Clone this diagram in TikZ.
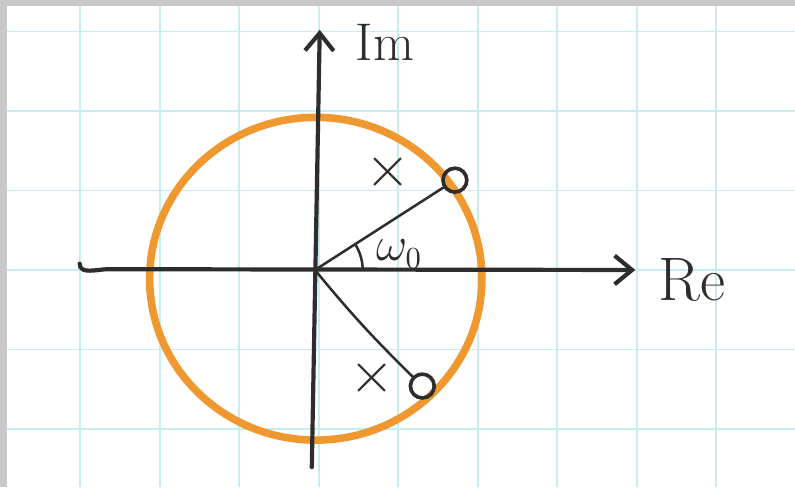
\documentclass[tikz,border=0pt]{standalone}
\usepackage{amsmath, amssymb}
\usepackage{tikz}
\usetikzlibrary{arrows.meta}
\usepackage{xcolor}
\definecolor{ink}{RGB}{45,45,45}
\definecolor{paper}{RGB}{200,200,200}
\definecolor{gridcyan}{RGB}{198,237,239}
\definecolor{marker}{RGB}{240,152,48}

\begin{document}
\begin{tikzpicture}[
    axis/.style={draw=ink, line width=1.5pt, line cap=round},
    ray/.style={draw=ink, line width=0.9pt, line cap=round},
    zeromark/.style={circle, draw=ink, line width=1.3pt, minimum size=0.3cm, inner sep=0pt},
    polemark/.style={text=ink, font=\fontsize{20}{20}\selectfont, inner sep=0pt},
    axlabel/.style={text=ink, inner sep=0pt}
]
    \useasboundingbox (-3.962,-2.730) rectangle (6.038,3.396);
    \fill[paper] (-3.962,-2.730) rectangle (6.038,3.396);
    \fill[white] (-3.874,-2.730) rectangle (6.038,3.321);
    % squared paper
    \foreach \x in {-3,...,5}
        \draw[gridcyan, line width=0.7pt] (\x+0.05,-2.730) -- (\x+0.05,3.321);
    \foreach \y in {-2,...,3}
        \draw[gridcyan, line width=0.7pt] (-3.874,\y) -- (6.038,\y);

    % unit circle
    \draw[marker, line width=2.7pt] (0.01,-0.11) ellipse [x radius=2.09, y radius=2.03];

    % axes
    \coordinate (O) at (0,0);
    \coordinate (re start) at (-2.96,0.08);
    \coordinate (re end) at (4.03,0);
    \coordinate (im start) at (-0.04,-2.48);
    \coordinate (im end) at (0.06,3.02);
    \draw[axis, -{Straight Barb[length=2.2mm, width=3.6mm]}] (re start) to[out=-90, in=180] (-2.6,0.01) -- (re end);
    \draw[axis, -{Straight Barb[length=2.2mm, width=3.6mm]}] (im start) -- (im end);
    \node[axlabel, font=\fontsize{22}{22}\selectfont] (re) at (4.74,-0.12) {Re};
    \node[axlabel, font=\fontsize{19}{19}\selectfont] (im) at (0.88,2.86) {Im};

    % zeros and poles
    \node[zeromark] (z1) at (1.76,1.13) {};
    \node[zeromark] (z2) at (1.35,-1.46) {};
    \node[polemark] (p1) at (0.92,1.23) {$\times$};
    \node[polemark] (p2) at (0.72,-1.36) {$\times$};
    \draw[ray] (O) -- (z1);
    \draw[ray] (O) to[bend right=3] (z2);

    % angle
    \draw[ray] (0.6,0) arc[start angle=0, end angle=31, radius=0.6];
    \node[axlabel, font=\fontsize{16}{16}\selectfont] (w0) at (1.06,0.2) {$\omega_0$};
\end{tikzpicture}
\end{document}
